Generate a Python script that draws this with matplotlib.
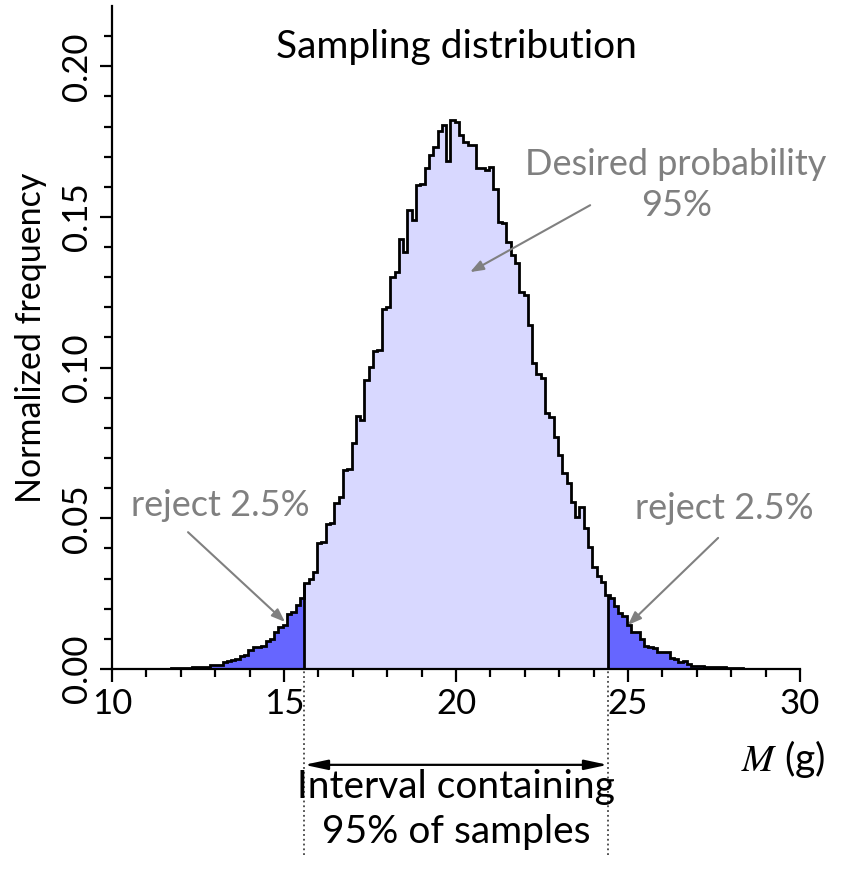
import numpy as np
import matplotlib
matplotlib.use('Agg')
import matplotlib.pyplot as plt

## Font setup
plt.rcParams['font.family'] = ['Lato', 'DejaVu Sans']
plt.rcParams['mathtext.fontset'] = 'stix'

## Histogram data (bin width 0.125 g)
bin_start = 11.465
bin_width = 0.125
freq = np.array([
    0.0001, 0.0001, 0.0002, 0.0002, 0.0003, 0.0004, 0.0004, 0.0005,
    0.0006, 0.0006, 0.0007, 0.0012, 0.0013, 0.0014, 0.0023, 0.0025,
    0.0031, 0.0033, 0.0042, 0.0045, 0.0062, 0.0072, 0.0074, 0.0077,
    0.0093, 0.0099, 0.0122, 0.0140, 0.0147, 0.0183, 0.0188, 0.0212,
    0.0236, 0.0285, 0.0300, 0.0323, 0.0417, 0.0420, 0.0480, 0.0486,
    0.0550, 0.0571, 0.0660, 0.0665, 0.0749, 0.0840, 0.0825, 0.0959,
    0.1003, 0.1055, 0.1060, 0.1196, 0.1202, 0.1300, 0.1318, 0.1428,
    0.1384, 0.1522, 0.1489, 0.1605, 0.1611, 0.1661, 0.1705, 0.1732,
    0.1785, 0.1804, 0.1686, 0.1823, 0.1815, 0.1771, 0.1749, 0.1738,
    0.1738, 0.1661, 0.1661, 0.1655, 0.1665, 0.1594, 0.1484, 0.1480,
    0.1417, 0.1373, 0.1346, 0.1251, 0.1240, 0.1141, 0.1014, 0.0980,
    0.0965, 0.0848, 0.0837, 0.0770, 0.0710, 0.0649, 0.0618, 0.0555,
    0.0505, 0.0538, 0.0467, 0.0406, 0.0339, 0.0310, 0.0290, 0.0245,
    0.0235, 0.0210, 0.0185, 0.0175, 0.0146, 0.0122, 0.0124, 0.0100,
    0.0076, 0.0072, 0.0070, 0.0058, 0.0057, 0.0056, 0.0036, 0.0034,
    0.0024, 0.0027, 0.0017, 0.0011, 0.0010, 0.0009, 0.0008, 0.0006,
    0.0006, 0.0005, 0.0005, 0.0004, 0.0003, 0.0003, 0.0002, 0.0001,
    0.0001, 0.0001,
])
edges = bin_start + bin_width * np.arange(len(freq) + 1)

## 95% interval limits
lo, hi = 15.59, 24.41

light = '#d8d8ff'
dark = '#6666ff'
gray = '#808080'


def segment(a, b):
    inner = edges[(edges > a) & (edges < b)]
    xs = np.concatenate([[a], inner, [b]])
    idx = np.clip(np.searchsorted(edges, xs, side='right') - 1, 0, len(freq) - 1)
    return xs, freq[idx]


def height_at(x):
    i = np.clip(np.searchsorted(edges, x, side='right') - 1, 0, len(freq) - 1)
    return freq[i]


fig = plt.figure(figsize=(8.43, 8.80), dpi=100)
ax = fig.add_axes([112 / 843, 1 - 669 / 880, 688 / 843, 663 / 880])

## Fills
xs, ys = segment(edges[0], lo)
ax.fill_between(xs, ys, step='post', color=dark, lw=0)
xs, ys = segment(lo, hi)
ax.fill_between(xs, ys, step='post', color=light, lw=0)
xs, ys = segment(hi, edges[-1])
ax.fill_between(xs, ys, step='post', color=dark, lw=0)

## Outline
ax.stairs(freq, edges, color='black', lw=2.0)
ax.vlines([lo, hi], 0, [height_at(lo), height_at(hi)], color='black', lw=2.0)

## Axes
ax.set_xlim(10, 30)
ax.set_ylim(0, 0.22)
ax.spines['top'].set_visible(False)
ax.spines['right'].set_visible(False)
ax.spines['left'].set_linewidth(1.6)
ax.spines['bottom'].set_linewidth(1.6)
ax.set_xticks([10, 15, 20, 25, 30])
ax.set_xticks(np.arange(10, 31, 1), minor=True)
ax.set_yticks([0.0, 0.05, 0.10, 0.15, 0.20])
ax.set_yticks(np.arange(0, 0.215, 0.01), minor=True)
ax.set_yticklabels(['0.00', '0.05', '0.10', '0.15', '0.20'])
ax.tick_params(which='major', direction='out', length=9, width=1.6, labelsize=25, pad=5)
ax.tick_params(which='minor', direction='out', length=6, width=1.6)
for lab in ax.get_yticklabels():
    lab.set_rotation(90)
    lab.set_va('center')
ax.set_ylabel('Normalized frequency', fontsize=24.5, labelpad=10)

## Text and arrows
ax.text(20, 0.2063, 'Sampling distribution', fontsize=28, ha='center', va='center')
ax.text(26.4, 0.1605, 'Desired probability\n95%', fontsize=26, color=gray,
        ha='center', va='center', linespacing=1.3)
arrow = dict(arrowstyle='-|>,head_length=0.8,head_width=0.3', color=gray, lw=1.5,
             shrinkA=0, shrinkB=0)
ax.annotate('', xy=(20.41, 0.1317), xytext=(23.9, 0.1539), arrowprops=arrow)
ax.text(13.14, 0.0544, 'reject 2.5%', fontsize=26, color=gray, ha='center', va='center')
ax.annotate('', xy=(15.03, 0.0156), xytext=(12.21, 0.0454), arrowprops=arrow)
ax.text(27.79, 0.0534, 'reject 2.5%', fontsize=26, color=gray, ha='center', va='center')
ax.annotate('', xy=(25.0, 0.0146), xytext=(27.62, 0.0435), arrowprops=arrow)

## Interval below the axis
ax.vlines([lo, hi], -0.0617, 0, color='#444444', lw=1.3, linestyles=':', clip_on=False)
ax.annotate('', xy=(hi, -0.0318), xytext=(lo, -0.0318), annotation_clip=False,
            arrowprops=dict(arrowstyle='<|-|>,head_length=1.4,head_width=0.3',
                            color='black', lw=1.6, shrinkA=0, shrinkB=0))
ax.text(20, -0.0467, 'Interval containing\n95% of samples', fontsize=28,
        ha='center', va='center', linespacing=1.3, clip_on=False)
ax.text(30.73, -0.030, r'$M$ (g)', fontsize=28, ha='right', va='center', clip_on=False)

fig.savefig('out.png', dpi=100)
